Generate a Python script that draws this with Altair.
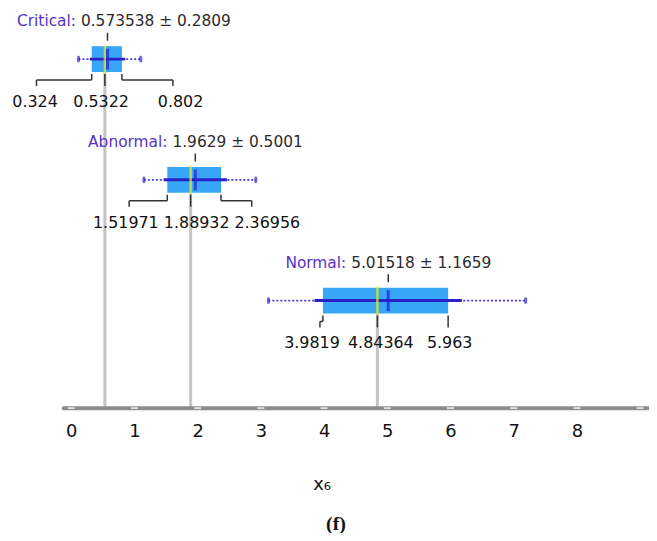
import altair as alt
import pandas as pd

# ---------------- data ----------------
categories = ["Critical", "Abnormal", "Normal"]
means = [0.573538, 1.9629, 5.01518]
sds = [0.2809, 0.5001, 1.1659]
q1s = [0.324, 1.51971, 3.9819]
medians = [0.5322, 1.88932, 4.84364]
q3s = [0.802, 2.36956, 5.963]
whisker_lo = [0.115, 1.15, 3.12]
whisker_hi = [1.10, 2.92, 7.19]
axis_tick_values = [0, 1, 2, 3, 4, 5, 6, 7, 8, 9]
axis_label_values = [0, 1, 2, 3, 4, 5, 6, 7, 8]
x_title = "x₆"
panel_tag = "(f)"

# ---------------- layout / style ----------------
W, H = 588, 401
DMIN, DMAX = -0.12, 9.125
UNIT = W / (DMAX - DMIN)
FONT = "DejaVu Sans"
TITLE_FS = 15.5
LABEL_FS = 16
# pixel shifts of the quartile labels and of their connector ends (label layout)
LABEL_DX = [(-57, -3.8, 59), (-41.7, 6.1, 46.6), (-11, 3.5, 1.5)]
LINK_DX = [(-55.6, 0, 51.3), (-38.4, 0, 30.9), (-3, 0, 0)]
TITLE_MIN_LEFT = -47

EM = {str(d): 0.636 for d in range(10)}
EM.update({".": 0.318, " ": 0.318, ":": 0.337, "±": 0.838, "C": 0.698, "r": 0.411,
           "i": 0.278, "t": 0.392, "c": 0.550, "a": 0.613, "l": 0.278, "A": 0.684,
           "b": 0.635, "n": 0.634, "o": 0.612, "m": 0.974, "N": 0.748})


def text_w(s, fs):
    return sum(EM.get(ch, 0.6) for ch in s) * fs


def px(v):
    return (v - DMIN) * UNIT


# ---------------- tables ----------------
box_rows, title_rows, label_rows = [], [], []
for i, name in enumerate(categories):
    m, s = means[i], sds[i]
    box_rows.append(dict(name=name, row=i, mean=m, sd_lo=m - s, sd_hi=m + s,
                         q1=q1s[i], median=medians[i], q3=q3s[i],
                         wlo=whisker_lo[i], whi=whisker_hi[i]))
    name_txt = name + ":"
    val_txt = f"{m} ± {s}"
    nw, vw, gap = text_w(name_txt, TITLE_FS), text_w(val_txt, TITLE_FS), 0.318 * TITLE_FS
    left = max(px(m) - (nw + gap + vw) / 2, TITLE_MIN_LEFT)
    title_rows.append(dict(row=i, name_txt=name_txt, val_txt=val_txt,
                           name_x=DMIN + (left + nw) / UNIT,
                           val_x=DMIN + (left + nw + gap) / UNIT))
    for k, v in enumerate([q1s[i], medians[i], q3s[i]]):
        label_rows.append(dict(row=i, v=v, txt=str(v),
                               label_x=v + LABEL_DX[i][k] / UNIT,
                               link_x=v + LINK_DX[i][k] / UNIT))

boxes = pd.DataFrame(box_rows)
titles = pd.DataFrame(title_rows)
labels = pd.DataFrame(label_rows)

xs = alt.Scale(domain=[DMIN, DMAX], nice=False, zero=False)
ys = alt.Scale(domain=[0, 2], range=[49.8, 292.8], nice=False, zero=False)
x_axis = alt.Axis(values=axis_label_values, domain=False, ticks=False, tickSize=0, grid=False,
                  labelFont=FONT, labelFontSize=18, labelColor="#111111", labelPadding=15,
                  labelOverlap=False, labelFlush=False,
                  title=x_title, titleFont=FONT, titleFontSize=18, titleFontWeight="normal",
                  titleColor="#111111", titleX=259.5, titleY=82, titleBaseline="alphabetic",
                  titleAlign="center")


def X(f):
    return alt.X(f, type="quantitative", scale=xs, axis=x_axis)


def Y(f="row"):
    return alt.Y(f, type="quantitative", scale=ys, axis=None)


axis_line = alt.Chart(pd.DataFrame({"a": [DMIN], "b": [DMAX]})).mark_rule(
    color="#8c8c8c", strokeWidth=4, strokeCap="round").encode(
    x=X("a"), x2="b:Q", y=alt.value(H))

axis_ticks = alt.Chart(pd.DataFrame({"t": axis_tick_values})).mark_tick(
    orient="horizontal", size=7, thickness=2, color="white").encode(
    x=X("t"), y=alt.value(H))

base = alt.Chart(boxes)

median_guide = base.mark_rule(color="#c4c4c4", strokeWidth=3, yOffset=13).encode(
    x=X("median"), y=Y(), y2=alt.value(H))

whisk = base.mark_rule(color="#4a3ad8", strokeWidth=1.6, strokeDash=[2, 2]).encode(
    x=X("wlo"), x2="whi:Q", y=Y())

whisk_ends = base.transform_fold(["wlo", "whi"], as_=["k", "wv"]).mark_tick(
    orient="vertical", size=7, thickness=3, color="#3326cc", cornerRadius=1.5).encode(
    x=X("wv"), y=Y())

box = base.mark_rule(color="#38a6f6", strokeWidth=26, strokeCap="butt").encode(
    x=X("q1"), x2="q3:Q", y=Y())

sd_line = base.mark_rule(color="#2a22c8", strokeWidth=3).encode(
    x=X("sd_lo"), x2="sd_hi:Q", y=Y())

median_mark = base.mark_tick(orient="vertical", size=28, thickness=2.5, color="#f2f200").encode(
    x=X("median"), y=Y())

mean_mark = base.mark_tick(orient="vertical", size=21, thickness=3, color="#2020d8").encode(
    x=X("mean"), y=Y())

mean_pointer = base.mark_rule(color="#333333", strokeWidth=1.5, yOffset=-26.5, y2Offset=-18.5).encode(
    x=X("mean"), y=Y(), y2="row:Q")

tbase = alt.Chart(titles)
title_name = tbase.mark_text(align="right", baseline="middle", font=FONT, fontSize=TITLE_FS,
                             color="#5433c8", yOffset=-38).encode(
    x=X("name_x"), y=Y(), text="name_txt:N")
title_val = tbase.mark_text(align="left", baseline="middle", font=FONT, fontSize=TITLE_FS,
                            color="#2b2b2b", yOffset=-38).encode(
    x=X("val_x"), y=Y(), text="val_txt:N")

lbase = alt.Chart(labels)
link_a = lbase.mark_rule(color="#333333", strokeWidth=1.5, yOffset=15, y2Offset=21).encode(
    x=X("v"), y=Y(), y2="row:Q")
link_b = lbase.mark_rule(color="#333333", strokeWidth=1.5, yOffset=21).encode(
    x=X("v"), x2="link_x:Q", y=Y())
link_c = lbase.mark_rule(color="#333333", strokeWidth=1.5, yOffset=21, y2Offset=27).encode(
    x=X("link_x"), y=Y(), y2="row:Q")
label_text = lbase.mark_text(align="center", baseline="middle", font=FONT, fontSize=LABEL_FS,
                             color="#111111", yOffset=43).encode(
    x=X("label_x"), y=Y(), text="txt:N")

tag = alt.Chart(pd.DataFrame({"t": [panel_tag]})).mark_text(
    font="Liberation Serif", fontWeight="bold", fontSize=20, align="center",
    baseline="alphabetic", color="#111111").encode(
    x=alt.value(274), y=alt.value(524), text="t:N")

chart = alt.layer(
    median_guide, axis_line, axis_ticks, whisk, whisk_ends, box, sd_line, median_mark,
    mean_mark, mean_pointer, title_name, title_val, link_a, link_b, link_c, label_text, tag
).properties(
    width=W, height=H,
    padding={"left": 56, "top": 0, "right": 1, "bottom": 124},
    autosize=alt.AutoSizeParams(type="none"),
    background="white",
).configure_view(stroke=None)

chart.save("out.html", embed_options={"renderer": "svg", "actions": False})
